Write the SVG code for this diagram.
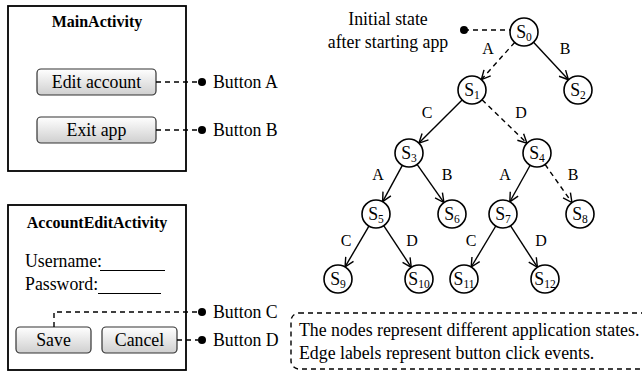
<svg xmlns="http://www.w3.org/2000/svg" width="642" height="372" viewBox="0 0 642 372" font-family="'Liberation Serif', Tinos, 'DejaVu Serif', serif">
<defs>
<linearGradient id="btn" x1="0" y1="0" x2="0" y2="1">
<stop offset="0" stop-color="#ffffff"/>
<stop offset="1" stop-color="#cfcfcf"/>
</linearGradient>
<marker id="arr" markerUnits="userSpaceOnUse" markerWidth="12" markerHeight="12" refX="10" refY="6" orient="auto">
<path d="M1,1.5 L10,6 L1,10.5" fill="none" stroke="#000" stroke-width="1.4"/>
</marker>
</defs>
<style>
text{font-family:'Liberation Serif',Tinos,'DejaVu Serif',serif;font-size:17.8px;fill:#000}
.title{font-weight:bold;font-size:16px}
.box{fill:#fff;stroke:#000;stroke-width:1.8}
.btn{fill:url(#btn);stroke:#333;stroke-width:1.2}
.dash{fill:none;stroke:#000;stroke-width:1.4;stroke-dasharray:5,4}
.solid{fill:none;stroke:#000;stroke-width:1.4}
.node{fill:#fff;stroke:#000;stroke-width:1.6}
.sub{font-size:11.5px}
.lbl{font-size:16px}
</style>

<g id="mainActivity">
<rect class="box" x="8" y="6" width="178" height="165"/>
<text class="title" x="97" y="27" text-anchor="middle">MainActivity</text>
<rect class="btn" x="37" y="69" width="119" height="26" rx="4"/>
<text x="96.5" y="88" text-anchor="middle">Edit account</text>
<rect class="btn" x="37" y="117" width="119" height="26" rx="4"/>
<text x="96.5" y="136" text-anchor="middle">Exit app</text>
</g>

<g id="accountEditActivity">
<rect class="box" x="8" y="205" width="178" height="165"/>
<text class="title" x="97" y="228" text-anchor="middle">AccountEditActivity</text>
<text x="25" y="267">Username:</text>
<line x1="100" y1="270.5" x2="165" y2="270.5" stroke="#000" stroke-width="1.2"/>
<text x="25" y="290">Password:</text>
<line x1="98" y1="293.5" x2="161" y2="293.5" stroke="#000" stroke-width="1.2"/>
<rect class="btn" x="16" y="327" width="75" height="26" rx="4"/>
<text x="53.5" y="346" text-anchor="middle">Save</text>
<rect class="btn" x="102" y="327" width="75" height="26" rx="4"/>
<text x="139.5" y="346" text-anchor="middle">Cancel</text>
</g>

<g id="buttonLabels">
<circle cx="202" cy="82" r="4"/>
<text x="213" y="88">Button A</text>
<circle cx="202" cy="130" r="4"/>
<text x="213" y="136">Button B</text>
<circle cx="202" cy="312" r="4"/>
<text x="213" y="318">Button C</text>
<circle cx="202" cy="340" r="4"/>
<text x="213" y="346">Button D</text>
</g>

<g id="initial">
<text x="388" y="25" text-anchor="middle">Initial state</text>
<text x="388" y="48" text-anchor="middle">after starting app</text>
<circle cx="464" cy="30" r="4"/>
</g>

<g id="connectors">
<path class="dash" d="M156,82 H198"/>
<path class="dash" d="M156,130 H198"/>
<path class="dash" d="M54,327 V312 H198"/>
<path class="dash" d="M177,340 H198"/>
<path class="dash" d="M464,30 H510"/>
<path class="dash" d="M514.65,42.42 L481.35,79.58" marker-end="url(#arr)"/>
<path class="solid" d="M533.54,42.25 L568.46,79.75" marker-end="url(#arr)"/>
<path class="solid" d="M462.1,99.9 L418.9,143.1" marker-end="url(#arr)"/>
<path class="dash" d="M482.05,99.74 L526.95,143.26" marker-end="url(#arr)"/>
<path class="solid" d="M402.34,165.31 L382.66,201.69" marker-end="url(#arr)"/>
<path class="solid" d="M417.07,164.44 L443.93,202.56" marker-end="url(#arr)"/>
<path class="solid" d="M530.18,165.23 L509.82,201.77" marker-end="url(#arr)"/>
<path class="dash" d="M545.07,164.44 L571.93,202.56" marker-end="url(#arr)"/>
<path class="solid" d="M368.93,226.09 L345.07,266.91" marker-end="url(#arr)"/>
<path class="solid" d="M383.72,225.68 L411.28,267.32" marker-end="url(#arr)"/>
<path class="solid" d="M495.8,226 L471.2,267" marker-end="url(#arr)"/>
<path class="solid" d="M510.6,225.76 L537.4,267.24" marker-end="url(#arr)"/>
<text class="lbl" x="488" y="54" text-anchor="middle">A</text>
<text class="lbl" x="565" y="54" text-anchor="middle">B</text>
<text class="lbl" x="427" y="118" text-anchor="middle">C</text>
<text class="lbl" x="521" y="118" text-anchor="middle">D</text>
<text class="lbl" x="378" y="180" text-anchor="middle">A</text>
<text class="lbl" x="447" y="180" text-anchor="middle">B</text>
<text class="lbl" x="505" y="180" text-anchor="middle">A</text>
<text class="lbl" x="573" y="180" text-anchor="middle">B</text>
<text class="lbl" x="346" y="246" text-anchor="middle">C</text>
<text class="lbl" x="412" y="246" text-anchor="middle">D</text>
<text class="lbl" x="471" y="246" text-anchor="middle">C</text>
<text class="lbl" x="541" y="246" text-anchor="middle">D</text>
</g>

<g id="s0"><circle class="node" cx="524" cy="32" r="14"/><text x="524" y="38" text-anchor="middle">S<tspan class="sub" dy="3">0</tspan></text></g>
<g id="s1"><circle class="node" cx="472" cy="90" r="14"/><text x="472" y="96" text-anchor="middle">S<tspan class="sub" dy="3">1</tspan></text></g>
<g id="s2"><circle class="node" cx="578" cy="90" r="14"/><text x="578" y="96" text-anchor="middle">S<tspan class="sub" dy="3">2</tspan></text></g>
<g id="s3"><circle class="node" cx="409" cy="153" r="14"/><text x="409" y="159" text-anchor="middle">S<tspan class="sub" dy="3">3</tspan></text></g>
<g id="s4"><circle class="node" cx="537" cy="153" r="14"/><text x="537" y="159" text-anchor="middle">S<tspan class="sub" dy="3">4</tspan></text></g>
<g id="s5"><circle class="node" cx="376" cy="214" r="14"/><text x="376" y="220" text-anchor="middle">S<tspan class="sub" dy="3">5</tspan></text></g>
<g id="s6"><circle class="node" cx="452" cy="214" r="14"/><text x="452" y="220" text-anchor="middle">S<tspan class="sub" dy="3">6</tspan></text></g>
<g id="s7"><circle class="node" cx="503" cy="214" r="14"/><text x="503" y="220" text-anchor="middle">S<tspan class="sub" dy="3">7</tspan></text></g>
<g id="s8"><circle class="node" cx="580" cy="214" r="14"/><text x="580" y="220" text-anchor="middle">S<tspan class="sub" dy="3">8</tspan></text></g>
<g id="s9"><circle class="node" cx="338" cy="279" r="14"/><text x="338" y="285" text-anchor="middle">S<tspan class="sub" dy="3">9</tspan></text></g>
<g id="s10"><circle class="node" cx="419" cy="279" r="14"/><text x="419" y="285" text-anchor="middle">S<tspan class="sub" dy="3">10</tspan></text></g>
<g id="s11"><circle class="node" cx="464" cy="279" r="14"/><text x="464" y="285" text-anchor="middle">S<tspan class="sub" dy="3">11</tspan></text></g>
<g id="s12"><circle class="node" cx="545" cy="279" r="14"/><text x="545" y="285" text-anchor="middle">S<tspan class="sub" dy="3">12</tspan></text></g>

<g id="note">
<rect class="dash" x="291" y="313" width="370" height="56" rx="8"/>
<text x="299" y="336">The nodes represent different application states.</text>
<text x="299" y="359">Edge labels represent button click events.</text>
</g>
</svg>
